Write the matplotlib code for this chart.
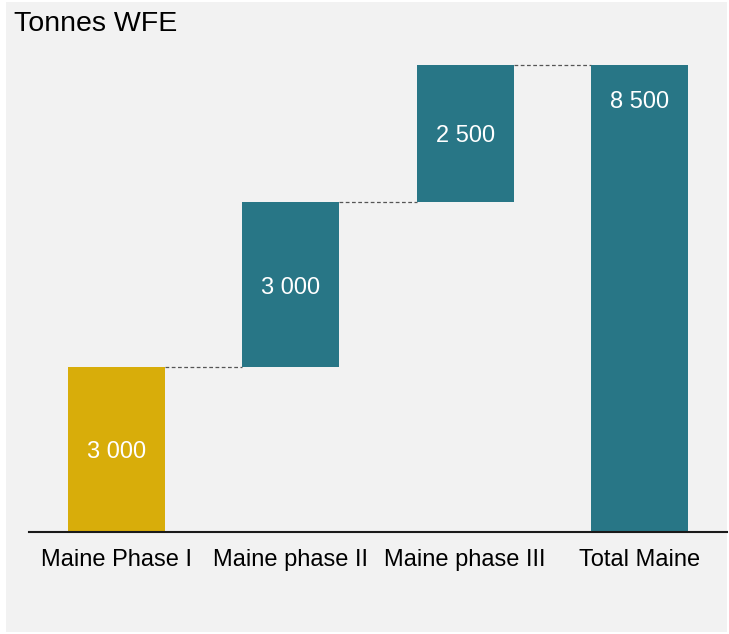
import numpy as np
import matplotlib.pyplot as plt
from matplotlib.patches import Rectangle

plt.rcParams['font.family'] = ['Liberation Sans', 'DejaVu Sans']

categories = ['Maine Phase I', 'Maine phase II', 'Maine phase III', 'Total Maine']
steps = [3000, 3000, 2500]
total = 8500
value_labels = ['3 000', '3 000', '2 500', '8 500']

gold = '#D8AD0A'
teal = '#287686'
bg = '#F2F2F2'

heights = steps + [total]
bottoms = list(np.concatenate([[0], np.cumsum(steps)[:-1]])) + [0]
colors = [gold, teal, teal, teal]

fig = plt.figure(figsize=(7.29, 6.34), dpi=100)
fig.patches.append(Rectangle((6/729, 2/634), 721/729, 630/634,
                             transform=fig.transFigure, facecolor=bg,
                             edgecolor='none', zorder=-10))

ax = fig.add_axes([29/729, 1 - 532/634, 698/729, 467/634])
ax.set_facecolor('none')
ax.set_zorder(1)

x = np.arange(len(categories))
w = 0.555
ax.bar(x, heights, bottom=bottoms, width=w, color=colors, zorder=2)

# connectors
tops = np.cumsum(steps)
for i in range(len(categories) - 1):
    ax.plot([x[i] + w/2, x[i+1] - w/2], [tops[i], tops[i]],
            ls=(0, (3, 2)), color='#555555', lw=0.9, clip_on=False, zorder=1)

for i in range(len(categories)):
    if i < len(steps):
        yy = bottoms[i] + heights[i] / 2 - 50
    else:
        yy = total - 680
    ax.text(x[i], yy, value_labels[i], ha='center', va='center',
            color='white', fontsize=17)

ax.set_xlim(-0.5, 3.5)
ax.set_ylim(0, total)
ax.set_xticks(x)
ax.set_xticklabels(categories, fontsize=17)
ax.tick_params(axis='x', length=0, pad=12)
ax.set_yticks([])
for s in ['top', 'right', 'left']:
    ax.spines[s].set_visible(False)
ax.spines['bottom'].set_linewidth(1.5)
ax.spines['bottom'].set_color('#1a1a1a')

fig.text(14/729, 1 - 11/634, 'Tonnes WFE', fontsize=20.5, va='top', ha='left')

fig.savefig('out.png', dpi=100, facecolor='white')
